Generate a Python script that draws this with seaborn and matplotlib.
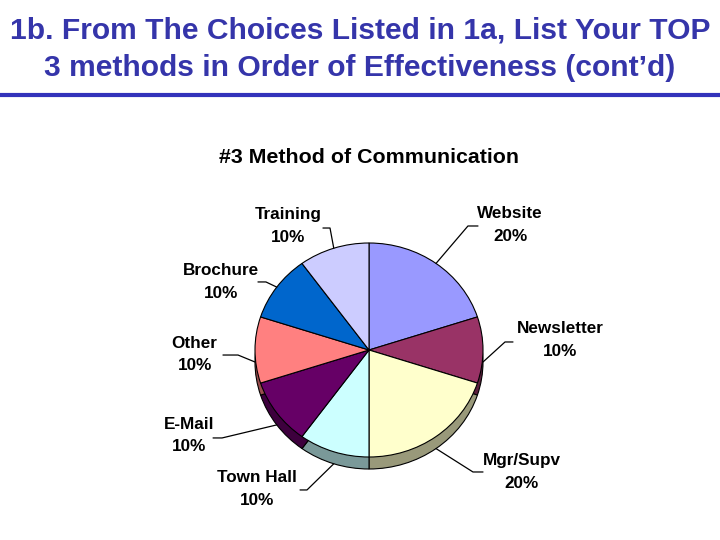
import matplotlib.pyplot as plt
import matplotlib.colors as mcolors
import numpy as np
import seaborn as sns


# Dados do gráfico.
methods = ['Website', 'Newsletter', 'Mgr/Supv', 'Town Hall', 'E-Mail', 'Other', 'Brochure', 'Training']
shares = [20, 10, 20, 10, 10, 10, 10, 10]
slice_colors = ['#9999FF', '#993366', '#FFFFCC', '#CCFFFF', '#660066', '#FF8080', '#0066CC', '#CCCCFF']

# Posições dos rótulos (unidades do eixo da pizza, raio = 1).
label_xy = [(1.237, 1.168), (1.675, 0.093), (1.342, -1.14), (-0.98, -1.30),
            (-1.58, -0.80), (-1.53, -0.04), (-1.30, 0.636), (-0.711, 1.159)]
elbow_xy = [(0.868, 1.159), (1.193, 0.075), (0.912, -1.14), (-0.544, -1.308),
            (-1.289, -0.822), (-1.149, -0.047), (-0.904, 0.636), (-0.342, 1.140)]
end_xy = [(0.956, 1.159), (1.263, 0.075), (1.0, -1.14), (-0.605, -1.308),
          (-1.368, -0.822), (-1.281, -0.047), (-0.974, 0.636), (-0.404, 1.140)]

sns.set_theme(style='white')
plt.rcParams['font.family'] = ['Liberation Sans', 'DejaVu Sans']
plt.rcParams['text.color'] = 'black'

fig = plt.figure(figsize=(7.2, 5.4), dpi=100)
fig.patch.set_facecolor('white')

title_color = '#3535AA'
fig.text(0.5, 1 - 31 / 540, '1b. From The Choices Listed in 1a, List Your TOP',
         ha='center', va='center', fontsize=21.6, fontweight='bold', color=title_color)
fig.text(0.5, 1 - 68 / 540, '3 methods in Order of Effectiveness (cont\u2019d)',
         ha='center', va='center', fontsize=21.6, fontweight='bold', color=title_color)
fig.add_artist(plt.Line2D([0, 1], [1 - 95 / 540] * 2, color='#3333BB', lw=3))
fig.text(369 / 720, 1 - 158 / 540, '#3 Method of Communication',
         ha='center', va='center', fontsize=15.4, fontweight='bold', color='black')

# Eixo da pizza: centro em (369, 350) px, raio 114 x 107 px.
ax = fig.add_axes([(369 - 228) / 720, (190 - 171.2) / 540, 456 / 720, 342.4 / 540])
depth = 12 / 107
side_colors = [tuple(np.array(mcolors.to_rgb(c)) * 0.6) for c in slice_colors]
wp = dict(edgecolor='black', linewidth=0.8)
ax.pie(shares, colors=side_colors, startangle=90, counterclock=False,
       center=(0, -depth), wedgeprops=wp)
ax.pie(shares, colors=slice_colors, startangle=90, counterclock=False, wedgeprops=wp)
ax.set_aspect('auto')
ax.set_xlim(-2, 2)
ax.set_ylim(-1.6, 1.6)
ax.axis('off')

total = sum(shares)
mids = np.deg2rad(90 - 360 * (np.cumsum(shares) - np.array(shares) / 2) / total)
for i, m in enumerate(methods):
    rx, ry = np.cos(mids[i]), np.sin(mids[i])
    if ry <= 0.01:
        ry -= depth
    ax.plot([rx, elbow_xy[i][0], end_xy[i][0]], [ry, elbow_xy[i][1], end_xy[i][1]],
            color='black', lw=0.9)
    ax.text(label_xy[i][0], label_xy[i][1], f'{m}\n{shares[i]}%', ha='center', va='center',
            fontsize=12.3, fontweight='bold', linespacing=1.6, color='black')

fig.savefig('out.png', dpi=100, facecolor='white')
